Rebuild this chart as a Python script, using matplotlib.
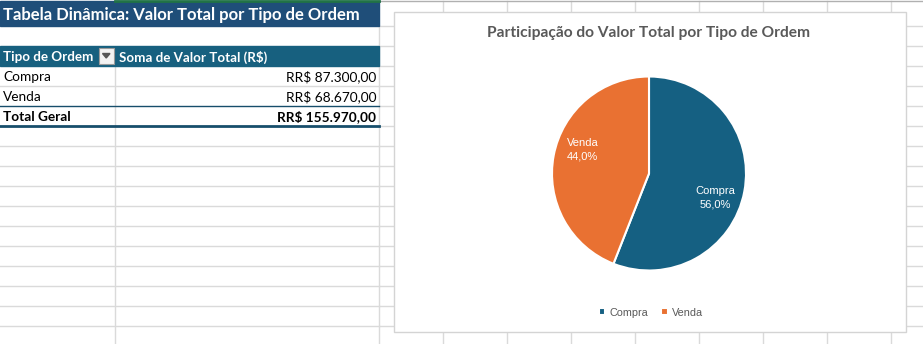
import numpy as np
import matplotlib.pyplot as plt
from matplotlib.patches import Rectangle, Polygon

# dados da tabela dinamica
tipos = ["Compra", "Venda"]
valores = [87300.00, 68670.00]
titulo_tabela = "Tabela Dinâmica: Valor Total por Tipo de Ordem"
titulo_grafico = "Participação do Valor Total por Tipo de Ordem"
cabecalho = ["Tipo de Ordem", "Soma de Valor Total (R$)"]
cores = ["#156082", "#E97132"]

W, H = 923, 344
GRID = "#DADADA"
AZUL_TITULO = "#1F4E79"
AZUL_CAB = "#17607F"
AZUL_BORDA = "#174E6B"
FONTE = "Lato"


def moeda(v):
    s = f"{v:,.2f}".replace(",", "X").replace(".", ",").replace("X", ".")
    return "RR$ " + s


fig = plt.figure(figsize=(W / 100, H / 100), dpi=100)
ax = fig.add_axes([0, 0, 1, 1])
ax.set_xlim(0, W)
ax.set_ylim(H, 0)
ax.axis("off")

# grade da planilha
cols_dir = [379 + 64 * k for k in range(1, 9)]
for x in cols_dir:
    ax.plot([x, x], [1, H], color=GRID, lw=1, zorder=1)
for y in range(26, H, 20):
    ax.plot([379, W], [y, y], color=GRID, lw=1, zorder=1)
for y in range(146, H, 20):
    ax.plot([0, 379], [y, y], color=GRID, lw=1, zorder=1)
ax.plot([379, W], [1, 1], color="#B0B0B0", lw=1, zorder=1)
ax.plot([115, 115], [66, H], color=GRID, lw=1, zorder=1)
ax.plot([379, 379], [26, H], color=GRID, lw=1, zorder=1)

# titulo da tabela
ax.add_patch(Rectangle((0, 1), 379, 25, color=AZUL_TITULO, zorder=2))
ax.plot([115, 379], [1, 1], color="#217346", lw=2, zorder=3)
ax.text(3, 15, titulo_tabela, color="white", fontsize=12, fontweight="bold",
        family=FONTE, va="center", ha="left", zorder=4)

# cabecalho
ax.add_patch(Rectangle((0, 46), 379, 20, color=AZUL_CAB, zorder=2))
ax.text(3, 57, cabecalho[0], color="white", fontsize=9.6, fontweight="bold",
        family=FONTE, va="center", zorder=4)
ax.text(119, 57, cabecalho[1], color="white", fontsize=9.6, fontweight="bold",
        family=FONTE, va="center", zorder=4)
ax.add_patch(Rectangle((98.5, 47.5), 15.5, 16, facecolor="#F2F2F2",
                       edgecolor="#9A9A9A", lw=0.8, zorder=4))
ax.add_patch(Polygon([[102.5, 53.5], [110, 53.5], [106.25, 58]], color="#555555", zorder=5))

# linhas de dados
for i, (t, v) in enumerate(zip(tipos, valores)):
    yc = 77 + 20 * i
    ax.text(3, yc, t, color="black", fontsize=9.8, family=FONTE, va="center", zorder=4)
    ax.text(376, yc, moeda(v), color="black", fontsize=9.8, family=FONTE,
            va="center", ha="right", zorder=4)
ax.plot([0, 379], [86, 86], color=GRID, lw=1, zorder=2)

# total geral
ax.plot([0, 379], [106, 106], color=AZUL_BORDA, lw=1, zorder=3)
ax.plot([0, 379], [126, 126], color=AZUL_BORDA, lw=2, zorder=3)
ax.text(3, 117, "Total Geral", color="black", fontsize=9.8, fontweight="bold",
        family=FONTE, va="center", zorder=4)
ax.text(376, 117, moeda(sum(valores)), color="black", fontsize=9.8,
        fontweight="bold", family=FONTE, va="center", ha="right", zorder=4)

# area do grafico
ax.add_patch(Rectangle((393.5, 12), 512, 320, facecolor="white",
                       edgecolor="#D4D4D4", lw=1, zorder=5))
ax.text(649, 33.5, titulo_grafico, color="#595959", fontsize=11.2, fontweight="bold",
        family=FONTE, ha="center", va="center", zorder=6)

# pizza
cx, cy, r = 649, 173.5, 97
pax = fig.add_axes([(cx - r) / W, (H - cy - r) / H, 2 * r / W, 2 * r / H])
pax.set_zorder(10)
wedges, _ = pax.pie(valores, colors=cores, startangle=90, counterclock=False,
                    wedgeprops=dict(edgecolor="white", linewidth=1.5))
pax.set_xlim(-1, 1)
pax.set_ylim(-1, 1)
pax.set_aspect("equal")
pax.axis("off")

total = sum(valores)
acum = 0
for t, v in zip(tipos, valores):
    frac = v / total
    meio = 90 - (acum + frac / 2) * 360 - 9
    acum += frac
    pct = f"{frac * 100:.1f}%".replace(".", ",")
    pax.text(0.73 * np.cos(np.radians(meio)), 0.73 * np.sin(np.radians(meio)),
             f"{t}\n{pct}", color="white", fontsize=8, family="Liberation Sans",
             ha="center", va="center", linespacing=1.4)

leg = fig.legend(wedges, tipos, loc="center", bbox_to_anchor=(651 / W, 1 - 312.5 / H),
                 ncol=2, frameon=False, handlelength=0.6, handleheight=0.6,
                 columnspacing=1.2, handletextpad=0.4,
                 prop=dict(family="Liberation Sans", size=7.8))
for txt in leg.get_texts():
    txt.set_color("#595959")
leg.set_zorder(11)

fig.savefig("out.png", dpi=100)
